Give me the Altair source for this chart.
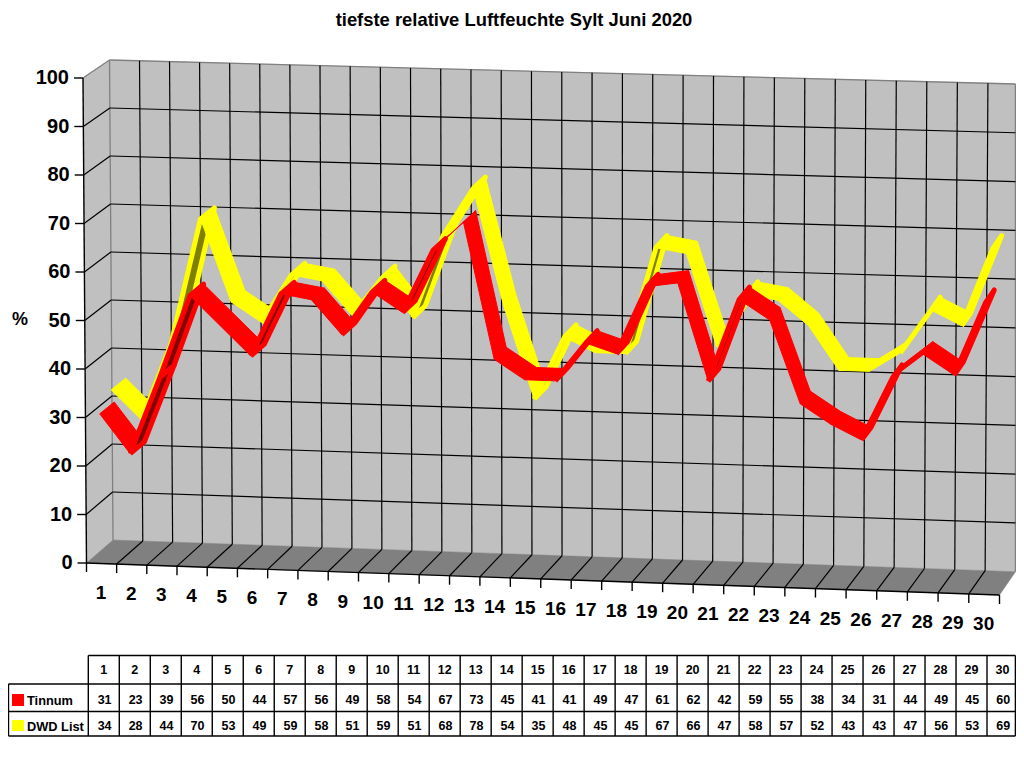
import altair as alt
import pandas as pd

# ---- data ----
DAYS = list(range(1, 31))
TINNUM = [31,23,39,56,50,44,57,56,49,58,54,67,73,45,41,41,49,47,61,62,42,59,55,38,34,31,44,49,45,60]
DWD = [34,28,44,70,53,49,59,58,51,59,51,68,78,54,35,48,45,45,67,66,47,58,57,52,43,43,47,56,53,69]
Y_TICKS = list(range(0, 101, 10))
TITLE = "tiefste relative Luftfeuchte Sylt Juni 2020"

W, H = 1008, 745
RIGHT_LIMIT = 8 + W - 0.6

# ---- 3D box projection: (category position, depth, value) -> page position ----
CORNERS = {
    (0, 0, 0): (86.5, 563.0), (0, 0, 1): (83.0, 78.0),
    (0, 1, 0): (113.0, 540.0), (0, 1, 1): (109.5, 60.0),
    (1, 0, 0): (999.5, 595.0), (1, 0, 1): (1002.5, 108.0),
    (1, 1, 0): (1015.5, 571.7), (1, 1, 1): (1018.5, 84.0),
}
PERSPECTIVE = 0.296  # slight widening of the categories towards the right

def proj(i, d, v):
    u = i / 30.0
    u = (i - PERSPECTIVE * u * (1 - u)) / 30.0
    w = v / 100.0
    px = py = 0.0
    for (a, b, c), (cx, cy) in CORNERS.items():
        k = (u if a else 1 - u) * (d if b else 1 - d) * (w if c else 1 - w)
        px += k * cx
        py += k * cy
    return px, py

def seg(rows, a, b):
    rows.append({"x": min(a[0], RIGHT_LIMIT), "y": a[1], "x2": min(b[0], RIGHT_LIMIT), "y2": b[1]})

def ribbon(values, d0, d1, bright, dark, label):
    rows = []
    for s in range(len(values) - 1):
        i0, i1 = s + 0.5, s + 1.5
        A = proj(i0, d0, values[s])
        B = proj(i1, d0, values[s + 1])
        C = proj(i1, d1, values[s + 1])
        D = proj(i0, d1, values[s])
        cross = (B[0] - A[0]) * (D[1] - A[1]) - (B[1] - A[1]) * (D[0] - A[0])
        under = cross > 0
        for o, p in enumerate([A, B, C, D, A]):
            rows.append({"x": p[0], "y": p[1], "o": o, "q": f"{label}{s:02d}",
                         "fill": dark if under else bright, "stroke": bright,
                         "sw": 5 if under else 1})
    return pd.DataFrame(rows)

X = alt.X("x:Q", scale=alt.Scale(domain=[8, 8 + W], range=[0, W]), axis=None)
Y = alt.Y("y:Q", scale=alt.Scale(domain=[8, 8 + H], range=[0, H]), axis=None)

def poly(df):
    return alt.Chart(df).mark_line(strokeJoin="round", fill="black").encode(
        x=X, y=Y, order="o:Q", detail="q:N",
        fill=alt.Fill("fill:N", scale=None),
        stroke=alt.Stroke("stroke:N", scale=None),
        strokeWidth=alt.StrokeWidth("sw:Q", scale=None),
    )

def face(corners, color, name):
    rows = [{"x": p[0], "y": p[1], "o": o, "q": name, "fill": color, "stroke": color, "sw": 0.5}
            for o, p in enumerate(corners + corners[:1])]
    return poly(pd.DataFrame(rows))

def rules(rows, color, width=1.0):
    return alt.Chart(pd.DataFrame(rows)).mark_rule(color=color, strokeWidth=width).encode(
        x=X, y=Y, x2="x2:Q", y2="y2:Q")

def texts(rows, size, align="center", weight="bold"):
    return alt.Chart(pd.DataFrame(rows)).mark_text(
        font="Liberation Sans", fontWeight=weight, fontSize=size, align=align,
        baseline="middle", color="black").encode(x=X, y=Y, text="t:N")

# faces
back = face([proj(0,1,0), proj(30,1,0), proj(30,1,100), proj(0,1,100)], "#c0c0c0", "back")
left = face([proj(0,0,0), proj(0,1,0), proj(0,1,100), proj(0,0,100)], "#c0c0c0", "left")
floor = face([proj(0,0,0), proj(30,0,0), proj(30,1,0), proj(0,1,0)], "#808080", "floor")

# grid
black, gray = [], []
for v in Y_TICKS[1:-1]:
    seg(black, proj(0,1,v), proj(30,1,v))
    seg(black, proj(0,0,v), proj(0,1,v))
for i in range(1, 30):
    seg(black, proj(i,1,0), proj(i,1,100))
    seg(black, proj(i,0,0), proj(i,1,0))
seg(gray, proj(0,1,100), proj(30,1,100))
seg(gray, proj(0,0,100), proj(0,1,100))
seg(gray, proj(0,1,0), proj(0,1,100))
seg(gray, proj(30,1,0), proj(30,1,100))

axes_rows = []
seg(axes_rows, proj(0,0,0), proj(0,0,100))
seg(axes_rows, proj(0,0,0), proj(30,0,0))
for v in Y_TICKS:
    p = proj(0,0,v)
    seg(axes_rows, (p[0]-9, p[1]), p)
for i in range(0, 31):
    p = proj(i,0,0)
    seg(axes_rows, p, (p[0], p[1]+9))

ylab = []
for v in Y_TICKS:
    p = proj(0,0,v)
    ylab.append({"x": p[0]-14, "y": p[1], "t": str(v)})
xlab = []
for d in DAYS:
    p = proj(d-0.5,0,0)
    xlab.append({"x": p[0]-0.5, "y": p[1]+29.5, "t": str(d)})

# data table
T_X0, T_CW, T_LEFT = 88.3, 30.99, 8.5
T_Y = [655.5, 684, 711.5, 736]
t_rules = []
for k in range(31):
    xk = T_X0 + k*T_CW
    seg(t_rules, (xk, T_Y[0]), (xk, T_Y[3]))
seg(t_rules, (T_X0, T_Y[0]), (T_X0+30*T_CW, T_Y[0]))
seg(t_rules, (T_LEFT, T_Y[1]), (T_X0+30*T_CW, T_Y[1]))
seg(t_rules, (T_LEFT, T_Y[2]), (T_X0+30*T_CW-2, T_Y[2]))
seg(t_rules, (T_LEFT, T_Y[3]), (T_X0+30*T_CW, T_Y[3]))
seg(t_rules, (T_LEFT, T_Y[1]), (T_LEFT, T_Y[3]))

cells = []
for k, d in enumerate(DAYS):
    cx = T_X0 + (k+0.5)*T_CW
    cells.append({"x": cx, "y": 670, "t": str(d)})
    cells.append({"x": cx+0.8, "y": 700, "t": str(TINNUM[k])})
    cells.append({"x": cx+0.8, "y": 726, "t": str(DWD[k])})

names = [{"x": 27, "y": 701, "t": "Tinnum"}, {"x": 27, "y": 727, "t": "DWD List"}]
swatches = pd.DataFrame([
    {"x": 12, "x2": 24, "y": 694, "y2": 706, "c": "#ff0000"},
    {"x": 12, "x2": 24, "y": 720, "y2": 731, "c": "#ffff00"},
])
sw_layer = alt.Chart(swatches).mark_rect().encode(
    x=X, y=Y, x2="x2:Q", y2="y2:Q", fill=alt.Fill("c:N", scale=None))

chart = alt.layer(
    back, left, floor,
    rules(gray, "#808080", 1.3),
    rules(black, "black", 1.2),
    rules(axes_rows, "black", 1.4),
    poly(ribbon(DWD, 0.41, 0.96, "#ffff00", "#808000", "d")),
    poly(ribbon(TINNUM, -0.03, 0.52, "#ff0000", "#800000", "t")),
    texts(ylab, 20, align="right"),
    texts(xlab, 19),
    texts([{"x": 20, "y": 320, "t": "%"}], 18),
    texts([{"x": 514, "y": 20, "t": TITLE}], 18.4),
    rules(t_rules, "black", 1.4),
    texts(cells, 12.5),
    texts(names, 12.8, align="left"),
    sw_layer,
).properties(
    width=W, height=H, padding=0, autosize="none", background="white",
).configure_view(stroke=None)

chart.save("out.html", embed_options={"renderer": "svg", "actions": False})
